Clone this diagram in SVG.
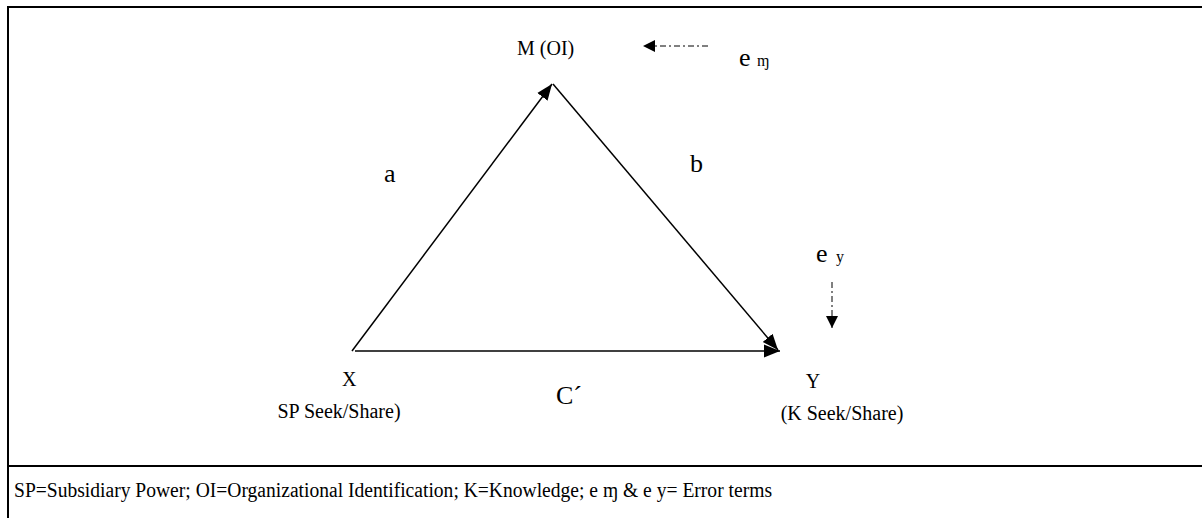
<svg xmlns="http://www.w3.org/2000/svg" width="1202" height="518" viewBox="0 0 1202 518">
<style>
text{font-family:'Liberation Serif','DejaVu Serif',serif;fill:#000}
.t{font-size:20px}
.e{font-size:26px}
.s{font-size:16px}
.ln{stroke:#000;stroke-width:1.5;fill:none}
.dash{stroke:#000;stroke-width:1;fill:none;stroke-dasharray:6 3 2 3}
</style>
<defs>
<marker id="ah" viewBox="0 0 10 10" refX="10" refY="5" markerWidth="12" markerHeight="12" markerUnits="userSpaceOnUse" orient="auto"><path d="M0,0 L10,5 L0,10 z" fill="#000"/></marker>
<marker id="ah2" viewBox="0 0 10 10" refX="10" refY="5" markerWidth="16" markerHeight="16" markerUnits="userSpaceOnUse" orient="auto"><path d="M0,1 L10,5 L0,9 z" fill="#000"/></marker>
</defs>
<g id="frame">
<path d="M1202,7 L8,7 L8,518" stroke="#000" stroke-width="2" fill="none"/>
<line x1="8" y1="466" x2="1202" y2="466" stroke="#000" stroke-width="2"/>
</g>
<g id="connectors">
<line class="ln" x1="352" y1="351" x2="552" y2="84" marker-end="url(#ah2)"/>
<line class="ln" x1="553" y1="84" x2="778" y2="350" marker-end="url(#ah2)"/>
<line class="ln" x1="355" y1="351" x2="780" y2="351" marker-end="url(#ah2)"/>
<line class="dash" x1="708" y1="46" x2="643" y2="46" marker-end="url(#ah)"/>
<line class="dash" x1="832" y1="282" x2="832" y2="328" marker-end="url(#ah)"/>
</g>
<g id="node-m"><text class="t" x="517" y="55">M (OI)</text></g>
<g id="node-em"><text class="e" x="739" y="66">e</text><text class="s" x="757" y="66">ɱ</text></g>
<g id="label-a"><text class="e" x="384" y="182">a</text></g>
<g id="label-b"><text class="e" x="690" y="172">b</text></g>
<g id="node-ey"><text class="e" x="816" y="262">e</text><text class="s" x="836" y="262">y</text></g>
<g id="node-x"><text class="t" x="342" y="386">X</text><text class="t" x="339" y="418" text-anchor="middle">SP Seek/Share)</text></g>
<g id="label-c"><text class="e" x="556" y="404">C´</text></g>
<g id="node-y"><text class="t" x="813" y="388" text-anchor="middle">Y</text><text class="t" x="842" y="420" text-anchor="middle">(K Seek/Share)</text></g>
<g id="legend"><text class="t" x="14" y="497" textLength="758" lengthAdjust="spacingAndGlyphs">SP=Subsidiary Power; OI=Organizational Identification; K=Knowledge; e ɱ &amp; e y= Error terms</text></g>
</svg>
